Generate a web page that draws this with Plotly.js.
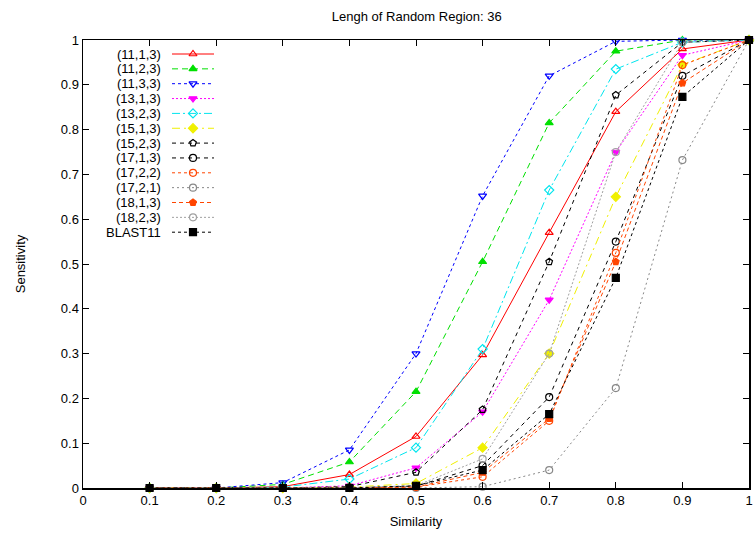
<!DOCTYPE html>
<html>
<head>
<meta charset="utf-8">
<script src="https://cdn.plot.ly/plotly-3.0.1.min.js"></script>
<style>html,body{margin:0;padding:0;background:#fff;}#chart{width:755px;height:538px;}</style>
</head>
<body>
<div id="chart"></div>
<script>
const similarity = [0.1, 0.2, 0.3, 0.4, 0.5, 0.6, 0.7, 0.8, 0.9, 1.0];
const seriesNames = ["(11,1,3)", "(11,2,3)", "(11,3,3)", "(13,1,3)", "(13,2,3)", "(15,1,3)", "(15,2,3)", "(17,1,3)", "(17,2,2)", "(17,2,1)", "(18,1,3)", "(18,2,3)", "BLAST11"];
const s11_1_3 = [0, 0, 0.003, 0.03, 0.115, 0.297, 0.57, 0.84, 0.98, 1];
const s11_2_3 = [0, 0, 0.008, 0.058, 0.215, 0.505, 0.815, 0.975, 1, 1];
const s11_3_3 = [0, 0, 0.012, 0.085, 0.30, 0.652, 0.92, 0.997, 1, 1];
const s13_1_3 = [0, 0, 0, 0.005, 0.045, 0.17, 0.42, 0.75, 0.966, 1];
const s13_2_3 = [0, 0, 0.002, 0.02, 0.09, 0.31, 0.665, 0.935, 0.995, 1];
const s15_1_3 = [0, 0, 0, 0.002, 0.01, 0.09, 0.30, 0.65, 0.945, 1];
const s15_2_3 = [0, 0, 0, 0.003, 0.035, 0.175, 0.505, 0.877, 0.995, 1];
const s17_1_3 = [0, 0, 0, 0, 0.004, 0.05, 0.203, 0.55, 0.92, 1];
const s17_2_2 = [0, 0, 0, 0, 0.002, 0.025, 0.15, 0.525, 0.944, 1];
const s17_2_1 = [0, 0, 0, 0, 0, 0.003, 0.04, 0.223, 0.732, 1];
const s18_1_3 = [0, 0, 0, 0, 0.002, 0.035, 0.155, 0.505, 0.904, 1];
const s18_2_3 = [0, 0, 0, 0.001, 0.005, 0.065, 0.30, 0.75, 0.995, 1];
const blast11 = [0, 0, 0, 0, 0.005, 0.04, 0.165, 0.469, 0.873, 1];
const tickVals = [0, 0.1, 0.2, 0.3, 0.4, 0.5, 0.6, 0.7, 0.8, 0.9, 1];
const tickText = ["0", "0.1", "0.2", "0.3", "0.4", "0.5", "0.6", "0.7", "0.8", "0.9", "1"];

const values = [s11_1_3, s11_2_3, s11_3_3, s13_1_3, s13_2_3, s15_1_3, s15_2_3, s17_1_3, s17_2_2, s17_2_1, s18_1_3, s18_2_3, blast11];
const styles = [
  {c: "#ff0000", d: "solid",   m: "triangle-up-open"},
  {c: "#00e000", d: "6px,4px", m: "triangle-up"},
  {c: "#0000ff", d: "3px,3px", m: "triangle-down-open"},
  {c: "#ff00ff", d: "2px,2px", m: "triangle-down"},
  {c: "#00e5ee", d: "8px,3px,2px,3px", m: "diamond-open"},
  {c: "#f0f000", d: "8px,4px,2px,4px", m: "diamond"},
  {c: "#000000", d: "4px,4px", m: "pentagon-open"},
  {c: "#000000", d: "4px,4px", m: "circle-open"},
  {c: "#ff4500", d: "3px,3px", m: "circle-open"},
  {c: "#888888", d: "2px,3px", m: "circle-open"},
  {c: "#ff4500", d: "4px,3px", m: "pentagon"},
  {c: "#a0a0a0", d: "2px,2px", m: "circle-open"},
  {c: "#000000", d: "3px,3px", m: "square"}
];

const FONT = "Liberation Sans, Arial, sans-serif";

const traces = values.map((v, i) => ({
  x: similarity, y: v, name: seriesNames[i], type: "scatter", mode: "lines+markers",
  line: {color: styles[i].c, width: 1, dash: styles[i].d},
  marker: {symbol: styles[i].m, size: 7, color: styles[i].c, line: {color: styles[i].c, width: 1.2}},
  cliponaxis: false, showlegend: false
}));

// gnuplot-style key (text on the left, sample line on the right), drawn on a pixel-scaled overlay axis
const plotW = 666, plotH = 448;
const keyRow0 = 14, keyRowStep = 14.85, keyTextRight = 79, keyLineL = 89, keyLineR = 131;
const annotations = [];
seriesNames.forEach((nm, i) => {
  const ry = keyRow0 + keyRowStep * i;
  const mid = (keyLineL + keyLineR) / 2;
  traces.push({
    x: [keyLineL, mid, keyLineR], y: [ry, ry, ry], xaxis: "x2", yaxis: "y2",
    type: "scatter", mode: "lines+markers", showlegend: false, hoverinfo: "skip",
    line: {color: styles[i].c, width: 1, dash: styles[i].d},
    marker: {symbol: styles[i].m, size: 7, color: styles[i].c, opacity: [0, 1, 0], line: {color: styles[i].c, width: 1.2}},
    cliponaxis: false
  });
  annotations.push({
    text: nm, x: keyTextRight, y: ry, xref: "x2", yref: "y2", xanchor: "right", yanchor: "middle",
    showarrow: false, borderpad: 0, valign: "middle",
    font: {family: FONT, size: 13, color: "#000"}
  });
});

const axisCommon = {
  range: [0, 1], tickvals: tickVals, ticktext: tickText, ticks: "inside", ticklen: 6,
  tickcolor: "#000", showline: true, linecolor: "#000", linewidth: 1.5, mirror: "ticks",
  showgrid: false, zeroline: false, tickfont: {family: FONT, size: 13, color: "#000"}
};

const layout = {
  width: 755, height: 538,
  margin: {l: 83, r: 6, t: 40, b: 50},
  paper_bgcolor: "#fff", plot_bgcolor: "#fff",
  font: {family: FONT, size: 13, color: "#000"},
  title: {text: "Lengh of Random Region: 36", x: 0.552, xanchor: "center", y: 0.97, yanchor: "middle", font: {size: 13, color: "#000"}},
  xaxis: Object.assign({}, axisCommon, {title: {text: "Similarity", font: {size: 13}, standoff: 10}}),
  yaxis: Object.assign({}, axisCommon, {title: {text: "Sensitivity", font: {size: 13}, standoff: 32}}),
  xaxis2: {overlaying: "x", anchor: "y2", range: [0, plotW], visible: false, fixedrange: true},
  yaxis2: {overlaying: "y", anchor: "x2", range: [plotH, 0], visible: false, fixedrange: true},
  annotations: annotations,
  showlegend: false
};

Plotly.newPlot("chart", traces, layout, {displayModeBar: false, staticPlot: true});
</script>
</body>
</html>
